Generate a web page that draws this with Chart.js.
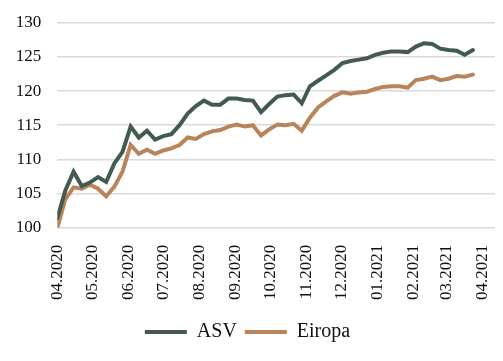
<!DOCTYPE html>
<html lang="lv">
<head>
    <meta charset="UTF-8">
    <title>ASV un Eiropa</title>
    <script src="https://cdn.jsdelivr.net/npm/chart.js"></script>
    <style>
        body { margin: 0; background: #fff; }
        .chart-box { width: 503px; height: 361px; }
    </style>
</head>
<body>
    <div class="chart-box">
        <canvas id="indexChart"></canvas>
    </div>

    <script>
        // weekly index values, 04.2020 = 100
        const asv = [101.4, 105.5, 108.2, 106.1, 106.6, 107.4, 106.7, 109.4, 111.1, 114.8,
                     113.2, 114.2, 112.9, 113.4, 113.7, 115.0, 116.7, 117.8, 118.6, 118.0,
                     118.0, 118.9, 118.9, 118.7, 118.6, 116.9, 118.1, 119.2, 119.4, 119.5,
                     118.2, 120.7, 121.5, 122.3, 123.1, 124.1, 124.4, 124.6, 124.8, 125.3,
                     125.6, 125.8, 125.8, 125.7, 126.5, 127.0, 126.9, 126.2, 126.0, 125.9,
                     125.3, 126.0];
        const eiropa = [100.0, 104.2, 105.9, 105.7, 106.3, 105.7, 104.6, 106.0, 108.2, 112.1,
                        110.8, 111.4, 110.8, 111.3, 111.6, 112.1, 113.2, 113.0, 113.7, 114.1,
                        114.3, 114.8, 115.1, 114.8, 115.0, 113.5, 114.4, 115.1, 115.0, 115.2,
                        114.2, 116.1, 117.6, 118.5, 119.3, 119.8, 119.6, 119.8, 119.9, 120.3,
                        120.6, 120.7, 120.7, 120.5, 121.6, 121.8, 122.1, 121.6, 121.8, 122.2,
                        122.1, 122.4];

        // month tick labels and their day offsets from 1 April 2020
        const monthLabels = ["04.2020", "05.2020", "06.2020", "07.2020", "08.2020", "09.2020",
                             "10.2020", "11.2020", "12.2020", "01.2021", "02.2021", "03.2021", "04.2021"];
        const monthDays = [0, 30, 61, 91, 122, 153, 183, 214, 244, 275, 306, 334, 365];

        const toPoints = arr => arr.map((v, i) => ({ x: i * 7, y: v }));
        const font = "'Liberation Serif', 'DejaVu Serif', serif";

        // fixed axis sizes so the plot area lands where it does in the original
        function fixSize(prop, size) {
            return axis => {
                axis[prop] = size;
                axis.paddingLeft = axis.paddingRight = axis.paddingTop = axis.paddingBottom = 0;
            };
        }

        new Chart(document.getElementById("indexChart"), {
            type: "line",
            data: {
                datasets: [
                    {
                        label: "ASV",
                        data: toPoints(asv),
                        borderColor: "#425a50",
                        backgroundColor: "#425a50",
                        borderWidth: 4,
                        borderCapStyle: "round",
                        pointRadius: 0,
                        tension: 0
                    },
                    {
                        label: "Eiropa",
                        data: toPoints(eiropa),
                        borderColor: "#b9845a",
                        backgroundColor: "#b9845a",
                        borderWidth: 4,
                        borderCapStyle: "round",
                        pointRadius: 0,
                        tension: 0
                    }
                ]
            },
            options: {
                responsive: true,
                maintainAspectRatio: false,
                animation: false,
                layout: { padding: { left: 0, right: 8, top: 22.7, bottom: 9 } },
                plugins: {
                    tooltip: { enabled: false },
                    legend: {
                        position: "bottom",
                        labels: {
                            usePointStyle: true,
                            pointStyle: "line",
                            pointStyleWidth: 42,
                            color: "#111",
                            padding: 8,
                            font: { family: font, size: 20 }
                        }
                    }
                },
                scales: {
                    x: {
                        type: "linear",
                        min: 0,
                        max: 376,
                        afterBuildTicks: axis => {
                            axis.ticks = monthDays.map(d => ({ value: d }));
                        },
                        afterFit: fixSize("height", 86.3),
                        grid: { display: false, drawTicks: false },
                        border: { display: false },
                        ticks: {
                            autoSkip: false,
                            minRotation: 90,
                            maxRotation: 90,
                            padding: 17,
                            color: "#111",
                            font: { family: font, size: 17 },
                            callback: (value, index) => monthLabels[index]
                        }
                    },
                    y: {
                        min: 100,
                        max: 130,
                        afterFit: fixSize("width", 57.3),
                        grid: { color: "#d9d9d9", lineWidth: 1.5, drawTicks: false },
                        border: { display: false },
                        ticks: {
                            stepSize: 5,
                            padding: 16,
                            color: "#111",
                            font: { family: font, size: 17 }
                        }
                    }
                }
            }
        });
    </script>
</body>
</html>
